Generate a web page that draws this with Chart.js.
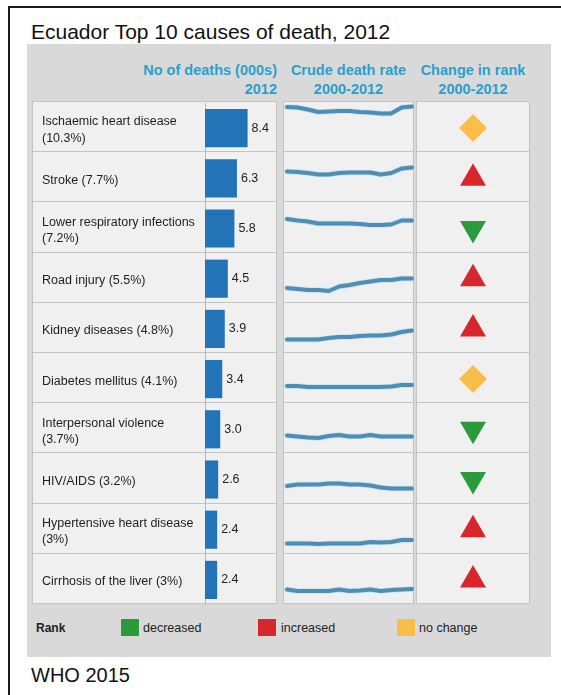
<!DOCTYPE html>
<html><head><meta charset="utf-8">
<script src="https://cdn.jsdelivr.net/npm/chart.js@4.4.1/dist/chart.umd.min.js"></script>
<style>
html,body{margin:0;padding:0;background:#fff;width:561px;height:695px;overflow:hidden;font-family:"Liberation Sans",Arial,sans-serif;}
.abs{position:absolute;}
#frameTop{left:8px;top:6px;width:553px;height:2px;background:#1a1a1a;}
#frameLeft{left:8px;top:6px;width:2px;height:689px;background:#1a1a1a;}
#title{left:31px;top:20px;font-size:21px;color:#111;white-space:nowrap;line-height:24px;}
#source{left:31px;top:663px;font-size:20px;color:#111;white-space:nowrap;line-height:24px;}
#panel{left:27px;top:44px;width:524px;height:613px;background:#d9d9d9;}
.hdr{font-weight:bold;color:#2b9fcb;font-size:14.5px;white-space:nowrap;line-height:16px;}
.cell{background:#f0f0f0;border:1px solid #c4c4c4;box-sizing:border-box;}
.leg{font-size:12.5px;color:#222;white-space:nowrap;line-height:16px;}
.sq{width:18px;height:17px;}
canvas{display:block;}
</style></head><body>
<div id="frameTop" class="abs"></div>
<div id="frameLeft" class="abs"></div>
<div id="title" class="abs">Ecuador Top 10 causes of death, 2012</div>
<div id="panel" class="abs"></div>
<div id="cells"></div>
<div class="abs hdr" style="left:107px;top:62px;width:170px;text-align:right;">No of deaths (000s)</div>
<div class="abs hdr" style="left:107px;top:81px;width:170px;text-align:right;">2012</div>
<div class="abs hdr" style="left:278px;top:62px;width:141px;text-align:center;">Crude death rate</div>
<div class="abs hdr" style="left:278px;top:81px;width:141px;text-align:center;">2000-2012</div>
<div class="abs hdr" style="left:416px;top:62px;width:114px;text-align:center;">Change in rank</div>
<div class="abs hdr" style="left:416px;top:81px;width:114px;text-align:center;">2000-2012</div>
<div class="abs" style="left:32px;top:103px;width:245px;height:502px;"><canvas id="barChart" width="245" height="502"></canvas></div>
<div id="lines"></div>
<div class="abs" style="left:416px;top:103px;width:114px;height:502px;"><canvas id="rankChart" width="114" height="502"></canvas></div>
<div class="abs leg" style="left:36px;top:620px;font-weight:bold;font-size:12px;">Rank</div>
<div class="abs sq" style="left:121px;top:619px;background:#2a9a3a;"></div>
<div class="abs leg" style="left:143px;top:620px;">decreased</div>
<div class="abs sq" style="left:258px;top:619px;background:#d8262d;"></div>
<div class="abs leg" style="left:281px;top:620px;">increased</div>
<div class="abs sq" style="left:397px;top:619px;background:#fbbd4a;"></div>
<div class="abs leg" style="left:419px;top:620px;">no change</div>
<div id="source" class="abs">WHO 2015</div>
<script>
// ---------- DATA ----------
const causeLabels = [
  ['Ischaemic heart disease', '(10.3%)'],
  'Stroke (7.7%)',
  ['Lower respiratory infections', '(7.2%)'],
  'Road injury (5.5%)',
  'Kidney diseases (4.8%)',
  'Diabetes mellitus (4.1%)',
  ['Interpersonal violence', '(3.7%)'],
  'HIV/AIDS (3.2%)',
  ['Hypertensive heart disease', '(3%)'],
  'Cirrhosis of the liver (3%)'
];
const deaths2012 = [8.4, 6.3, 5.8, 4.5, 3.9, 3.4, 3.0, 2.6, 2.4, 2.4];
const years = ['2000','2001','2002','2003','2004','2005','2006','2007','2008','2009','2010','2011','2012'];
// crude death rate trend, relative level within each row's panel (0-100)
const rateIschaemic    = [88,87,83,78,79,80,80,78,77,75,75,87,89];
const rateStroke       = [59,58,56,53,53,56,57,57,57,53,56,65,67];
const rateLowerResp    = [64,61,59,55,55,55,55,54,52,52,53,61,61];
const rateRoad         = [28,26,24,24,22,31,34,38,41,44,44,47,47];
const rateKidney       = [25,25,25,25,28,30,30,32,33,33,35,40,43];
const rateDiabetes     = [32,32,30,30,30,30,30,30,30,30,31,34,34];
const rateViolence     = [33,31,29,28,32,34,31,31,34,31,31,31,31];
const rateHIV          = [32,35,35,35,37,37,35,35,33,29,27,27,27];
const rateHypertensive = [19,19,19,18,19,19,19,19,22,21,22,26,26];
const rateCirrhosis    = [27,24,24,24,24,27,24,25,27,24,26,27,28];
const rankChange = ['no change','increased','decreased','increased','increased','no change','decreased','decreased','increased','increased'];
const rankPeriod = ['2000-2012'];

// ---------- LAYOUT (cells) ----------
const ROW_TOP = 101, ROW_H = 50.2, N = causeLabels.length;
const cellsDiv = document.getElementById('cells');
const linesDiv = document.getElementById('lines');
const cols = [[32,245],[283,131],[416,114]];
for (let i = 0; i < N; i++) {
  cols.forEach(([l,w]) => {
    const d = document.createElement('div');
    d.className = 'abs cell';
    d.style.cssText = `left:${l}px;top:${ROW_TOP + i*ROW_H}px;width:${w}px;height:${ROW_H+1}px;`;
    cellsDiv.appendChild(d);
  });
}

const flatLabels = causeLabels.map(l => Array.isArray(l) ? l.join(' ') : l);

// value label plugin
const valueLabels = {
  id: 'valueLabels',
  afterDatasetsDraw(chart) {
    const ctx = chart.ctx;
    const meta = chart.getDatasetMeta(0);
    ctx.save();
    ctx.font = '12.5px "Liberation Sans", Arial, sans-serif';
    ctx.fillStyle = '#222';
    ctx.textAlign = 'left';
    ctx.textBaseline = 'middle';
    meta.data.forEach((bar, i) => {
      ctx.fillText(chart.data.datasets[0].data[i].toFixed(1), bar.x + 4, bar.y);
    });
    ctx.restore();
  }
};

new Chart(document.getElementById('barChart'), {
  type: 'bar',
  data: { labels: causeLabels, datasets: [{ data: deaths2012, backgroundColor: '#2373b7', borderWidth: 0, categoryPercentage: 1, barPercentage: 0.76 }] },
  options: {
    indexAxis: 'y', responsive: false, animation: false,
    layout: { padding: { left: 10, right: 0, top: 0, bottom: 0 }, autoPadding: false },
    plugins: { legend: { display: false }, tooltip: { enabled: false } },
    scales: {
      y: {
        type: 'category',
        grid: { display: false },
        border: { display: true, color: '#b8b8b8', width: 1 },
        ticks: { crossAlign: 'far', padding: 0, labelOffset: 2, autoSkip: false, color: '#1e1e1e',
                 font: { family: '"Liberation Sans", Arial, sans-serif', size: 12.5, lineHeight: 1.3 } },
        afterFit: s => { s.width = 163; s.paddingTop = 0; s.paddingBottom = 0; }
      },
      x: { display: false, min: 0, max: 14.2 }
    }
  },
  plugins: [valueLabels]
});

const rateSeries = [rateIschaemic, rateStroke, rateLowerResp, rateRoad, rateKidney, rateDiabetes, rateViolence, rateHIV, rateHypertensive, rateCirrhosis];
rateSeries.forEach((series, i) => {
  const wrap = document.createElement('div');
  wrap.className = 'abs';
  wrap.style.cssText = `left:283px;top:${ROW_TOP + i*ROW_H}px;width:131px;height:50px;`;
  const cv = document.createElement('canvas');
  cv.width = 131; cv.height = 50;
  wrap.appendChild(cv);
  linesDiv.appendChild(wrap);
  new Chart(cv, {
    type: 'line',
    data: { labels: years, datasets: [
      { data: series, borderColor: 'rgba(140,210,240,0.45)', borderWidth: 5.5, pointRadius: 0, tension: 0, clip: false, borderCapStyle: 'round', borderJoinStyle: 'round' },
      { data: series, borderColor: '#1f5482', borderWidth: 4, pointRadius: 0, tension: 0, clip: false, borderCapStyle: 'round', borderJoinStyle: 'round' }
    ] },
    options: {
      responsive: false, animation: false,
      layout: { padding: { left: 4, right: 2, top: 0, bottom: 0 }, autoPadding: false },
      plugins: { legend: { display: false }, tooltip: { enabled: false } },
      scales: { x: { display: false }, y: { display: false, min: 0, max: 100 } }
    }
  });
});

const rankStyle = {
  'decreased': { style: 'triangle', rot: 180, color: '#2a9a3a', r: 15 },
  'increased': { style: 'triangle', rot: 0, color: '#d8262d', r: 15 },
  'no change': { style: 'rectRot', rot: 0, color: '#fbbd4a', r: 14 }
};
new Chart(document.getElementById('rankChart'), {
  type: 'scatter',
  data: { datasets: [{
    data: flatLabels.map(c => ({ x: rankPeriod[0], y: c })),
    pointStyle: c => rankStyle[rankChange[c.dataIndex]].style,
    pointRotation: c => rankStyle[rankChange[c.dataIndex]].rot,
    pointBackgroundColor: c => rankStyle[rankChange[c.dataIndex]].color,
    pointRadius: c => rankStyle[rankChange[c.dataIndex]].r,
    pointHoverRadius: c => rankStyle[rankChange[c.dataIndex]].r,
    pointBorderWidth: 0, clip: false
  }] },
  options: {
    responsive: false, animation: false,
    layout: { padding: 0, autoPadding: false },
    plugins: { legend: { display: false }, tooltip: { enabled: false } },
    scales: {
      x: { type: 'category', labels: rankPeriod, offset: true, display: false },
      y: { type: 'category', labels: flatLabels, offset: true, display: false }
    }
  }
});
</script>
</body></html>
